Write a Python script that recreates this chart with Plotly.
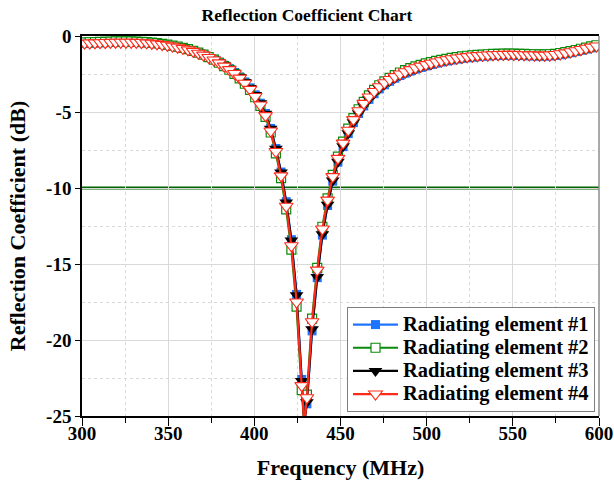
import plotly.graph_objects as go

# ---------------- data ----------------
# marker frequencies (MHz): one marker every 3 MHz
FREQ = [301.5 + 3 * i for i in range(100)]
# extra line-only samples (start, dip minimum, end)
F_START, F_MIN, F_END = 300.0, 429.0, 600.0

S1 = [-0.48, -0.47, -0.46, -0.45, -0.44, -0.43, -0.42, -0.42, -0.42, -0.42,
      -0.43, -0.44, -0.46, -0.49, -0.52, -0.56, -0.61, -0.66, -0.73, -0.8,
      -0.89, -0.99, -1.1, -1.23, -1.37, -1.53, -1.72, -1.92, -2.15, -2.4,
      -2.69, -3.02, -3.41, -3.87, -4.42, -5.1, -6.08, -7.4, -8.95, -10.9,
      -13.4, -17.0, -22.6, -24.2, -19.4, -15.9, -13.1, -11.15, -9.55, -8.3,
      -7.28, -6.42, -5.7, -5.1, -4.6, -4.17, -3.8, -3.48, -3.21, -2.98,
      -2.78, -2.6, -2.45, -2.31, -2.18, -2.07, -1.97, -1.88, -1.79, -1.71,
      -1.64, -1.58, -1.52, -1.47, -1.43, -1.39, -1.36, -1.33, -1.31, -1.29,
      -1.28, -1.27, -1.27, -1.27, -1.28, -1.29, -1.3, -1.31, -1.32, -1.32,
      -1.31, -1.28, -1.23, -1.17, -1.1, -1.02, -0.94, -0.86, -0.78, -0.7]

S2 = [-0.42, -0.41, -0.4, -0.39, -0.38, -0.37, -0.36, -0.36, -0.36, -0.36,
      -0.37, -0.38, -0.4, -0.43, -0.47, -0.52, -0.57, -0.63, -0.7, -0.78,
      -0.87, -0.98, -1.1, -1.23, -1.39, -1.56, -1.76, -1.98, -2.22, -2.49,
      -2.79, -3.14, -3.55, -4.03, -4.6, -5.32, -6.35, -7.72, -9.35, -11.4,
      -14.05, -17.8, -23.3, -23.6, -18.6, -15.25, -12.55, -10.68, -9.13, -7.94,
      -6.95, -6.1, -5.4, -4.82, -4.33, -3.91, -3.55, -3.24, -2.98, -2.76,
      -2.57, -2.4, -2.25, -2.12, -2.0, -1.9, -1.8, -1.72, -1.64, -1.57,
      -1.5, -1.44, -1.39, -1.34, -1.3, -1.27, -1.24, -1.22, -1.2, -1.18,
      -1.17, -1.16, -1.16, -1.16, -1.17, -1.18, -1.19, -1.2, -1.21, -1.21,
      -1.2, -1.17, -1.12, -1.06, -0.99, -0.92, -0.84, -0.76, -0.68, -0.61]

S3 = [-0.48, -0.47, -0.46, -0.45, -0.44, -0.43, -0.42, -0.42, -0.42, -0.42,
      -0.43, -0.44, -0.46, -0.49, -0.53, -0.57, -0.62, -0.67, -0.74, -0.81,
      -0.9, -1.0, -1.11, -1.24, -1.38, -1.54, -1.73, -1.93, -2.16, -2.41,
      -2.7, -3.03, -3.42, -3.88, -4.43, -5.12, -6.1, -7.42, -8.98, -10.95,
      -13.45, -17.05, -22.7, -24.1, -19.3, -15.85, -13.05, -11.1, -9.5, -8.27,
      -7.25, -6.4, -5.68, -5.08, -4.58, -4.15, -3.78, -3.46, -3.19, -2.96,
      -2.76, -2.59, -2.44, -2.3, -2.17, -2.06, -1.96, -1.87, -1.78, -1.7,
      -1.63, -1.57, -1.51, -1.46, -1.42, -1.38, -1.35, -1.32, -1.3, -1.28,
      -1.27, -1.26, -1.26, -1.26, -1.27, -1.28, -1.29, -1.3, -1.31, -1.31,
      -1.3, -1.27, -1.22, -1.16, -1.09, -1.01, -0.93, -0.85, -0.77, -0.69]

S4 = [-0.47, -0.46, -0.45, -0.44, -0.43, -0.42, -0.41, -0.41, -0.41, -0.41,
      -0.42, -0.43, -0.45, -0.48, -0.52, -0.56, -0.61, -0.67, -0.74, -0.82,
      -0.91, -1.01, -1.13, -1.26, -1.41, -1.58, -1.77, -1.98, -2.21, -2.47,
      -2.77, -3.11, -3.51, -3.98, -4.54, -5.24, -6.25, -7.6, -9.2, -11.2,
      -13.8, -17.5, -23.0, -23.8, -18.8, -15.4, -12.7, -10.8, -9.25, -8.05,
      -7.05, -6.2, -5.5, -4.92, -4.43, -4.01, -3.65, -3.34, -3.08, -2.86,
      -2.67, -2.5, -2.35, -2.21, -2.09, -1.98, -1.88, -1.79, -1.71, -1.63,
      -1.56, -1.5, -1.45, -1.4, -1.36, -1.32, -1.29, -1.27, -1.25, -1.23,
      -1.22, -1.21, -1.21, -1.21, -1.22, -1.23, -1.24, -1.25, -1.26, -1.26,
      -1.25, -1.22, -1.17, -1.11, -1.04, -0.97, -0.89, -0.81, -0.73, -0.66]

START_VALS = [-0.49, -0.43, -0.49, -0.48]
MIN_VALS = [-25.3, -25.5, -25.4, -25.6]
END_VALS = [-0.72, -0.57, -0.71, -0.62]

NAMES = ["Radiating element #1", "Radiating element #2",
         "Radiating element #3", "Radiating element #4"]
SERIES = [S1, S2, S3, S4]

THRESHOLD = -10
X_TICKS = [300, 350, 400, 450, 500, 550, 600]
Y_TICKS = [0, -5, -10, -15, -20, -25]
Y_TICK_LABELS = ["0", "-5", "-10", "-15", "-20", "-25"]

# ---------------- styles ----------------
FONT = "Liberation Serif"
STYLES = [
    dict(color="#1F74FF", symbol="square", size=9, fill="#1F74FF", lw=0),
    dict(color="#0A8A0A", symbol="square", size=9, fill="white", lw=1.2),
    dict(color="#000000", symbol="triangle-down", size=12, fill="#000000", lw=0),
    dict(color="#FF2A1A", symbol="triangle-down", size=12, fill="white", lw=1.1),
]

fig = go.Figure()

for name, vals, st, v0, vmin, v1 in zip(NAMES, SERIES, STYLES, START_VALS, MIN_VALS, END_VALS):
    pts = sorted(list(zip(FREQ, vals)) + [(F_START, v0), (F_MIN, vmin), (F_END, v1)])
    lx = [p[0] for p in pts]
    ly = [p[1] for p in pts]
    marker = dict(symbol=st["symbol"], size=st["size"], color=st["fill"],
                  line=dict(color=st["color"], width=st["lw"]))
    fig.add_trace(go.Scatter(x=lx, y=ly, mode="lines", showlegend=False,
                             line=dict(color=st["color"], width=2.2),
                             hoverinfo="skip"))
    fig.add_trace(go.Scatter(x=FREQ, y=vals, mode="markers", showlegend=False,
                             marker=marker, name=name))
    # legend entry (larger text, compact rows)
    fig.add_trace(go.Scatter(x=[None], y=[None], mode="lines+markers",
                             name='<span style="font-size:20.5px">' + name + "</span>",
                             line=dict(color=st["color"], width=2.2),
                             marker=marker, showlegend=True))

GRID = "#d9d9d9"

fig.update_layout(
    width=614, height=484,
    margin=dict(l=82, r=15, t=36, b=68, autoexpand=False),
    paper_bgcolor="white", plot_bgcolor="white",
    font=dict(family=FONT, color="black", size=19, weight="bold"),
    title=dict(text="Reflection Coefficient Chart", x=0.5, xref="container",
               xanchor="center", y=1 - 15 / 484, yref="container", yanchor="middle",
               font=dict(family=FONT, size=17.5, weight="bold", color="black")),
    showlegend=True,
    legend=dict(x=(595 - 82) / 517, xanchor="right", y=(416 - 412) / 380, yanchor="bottom",
                bgcolor="white", bordercolor="#7f7f7f", borderwidth=1,
                font=dict(family=FONT, size=15.5, weight="bold", color="black"),
                itemwidth=45, tracegroupgap=0, valign="middle"),
    xaxis=dict(range=[300, 600], tickvals=X_TICKS, showline=True, linecolor="black",
               linewidth=1.5, mirror=True, ticks="outside", ticklen=8, tickwidth=1.2,
               tickcolor="black", showgrid=True, gridcolor=GRID, gridwidth=1,
               zeroline=False, automargin=False, ticklabelstandoff=-9,
               tickfont=dict(family=FONT, size=19, weight="bold"),
               title=dict(text="Frequency (MHz)", standoff=17,
                          font=dict(family=FONT, size=22, weight="bold")),
               minor=dict(dtick=25, tick0=300, ticks="outside", ticklen=5, tickwidth=1.2,
                          tickcolor="black", showgrid=True, gridcolor=GRID,
                          griddash="dot", gridwidth=1)),
    yaxis=dict(range=[-25, 0], tickvals=Y_TICKS, ticktext=Y_TICK_LABELS, showline=True,
               linecolor="black", linewidth=1.5, mirror=False, ticks="outside",
               ticklen=5, tickwidth=1.2, tickcolor="black", showgrid=True,
               gridcolor=GRID, gridwidth=1, zeroline=False, automargin=False,
               tickfont=dict(family=FONT, size=19, weight="bold"),
               title=dict(text="Reflection Coefficient (dB)", standoff=14,
                          font=dict(family=FONT, size=22, weight="bold")),
               minor=dict(dtick=2.5, tick0=0, ticks="", showgrid=True, gridcolor=GRID,
                          griddash="dot", gridwidth=1)),
    shapes=[
        dict(type="line", xref="paper", x0=0, x1=1, yref="y", y0=THRESHOLD, y1=THRESHOLD,
             line=dict(color="#006400", width=3), layer="between"),
        dict(type="line", xref="paper", x0=1, x1=1, yref="paper", y0=0, y1=1,
             line=dict(color="#8c8c8c", width=1.5), layer="above"),
    ],
)

fig.write_html("out.html")
